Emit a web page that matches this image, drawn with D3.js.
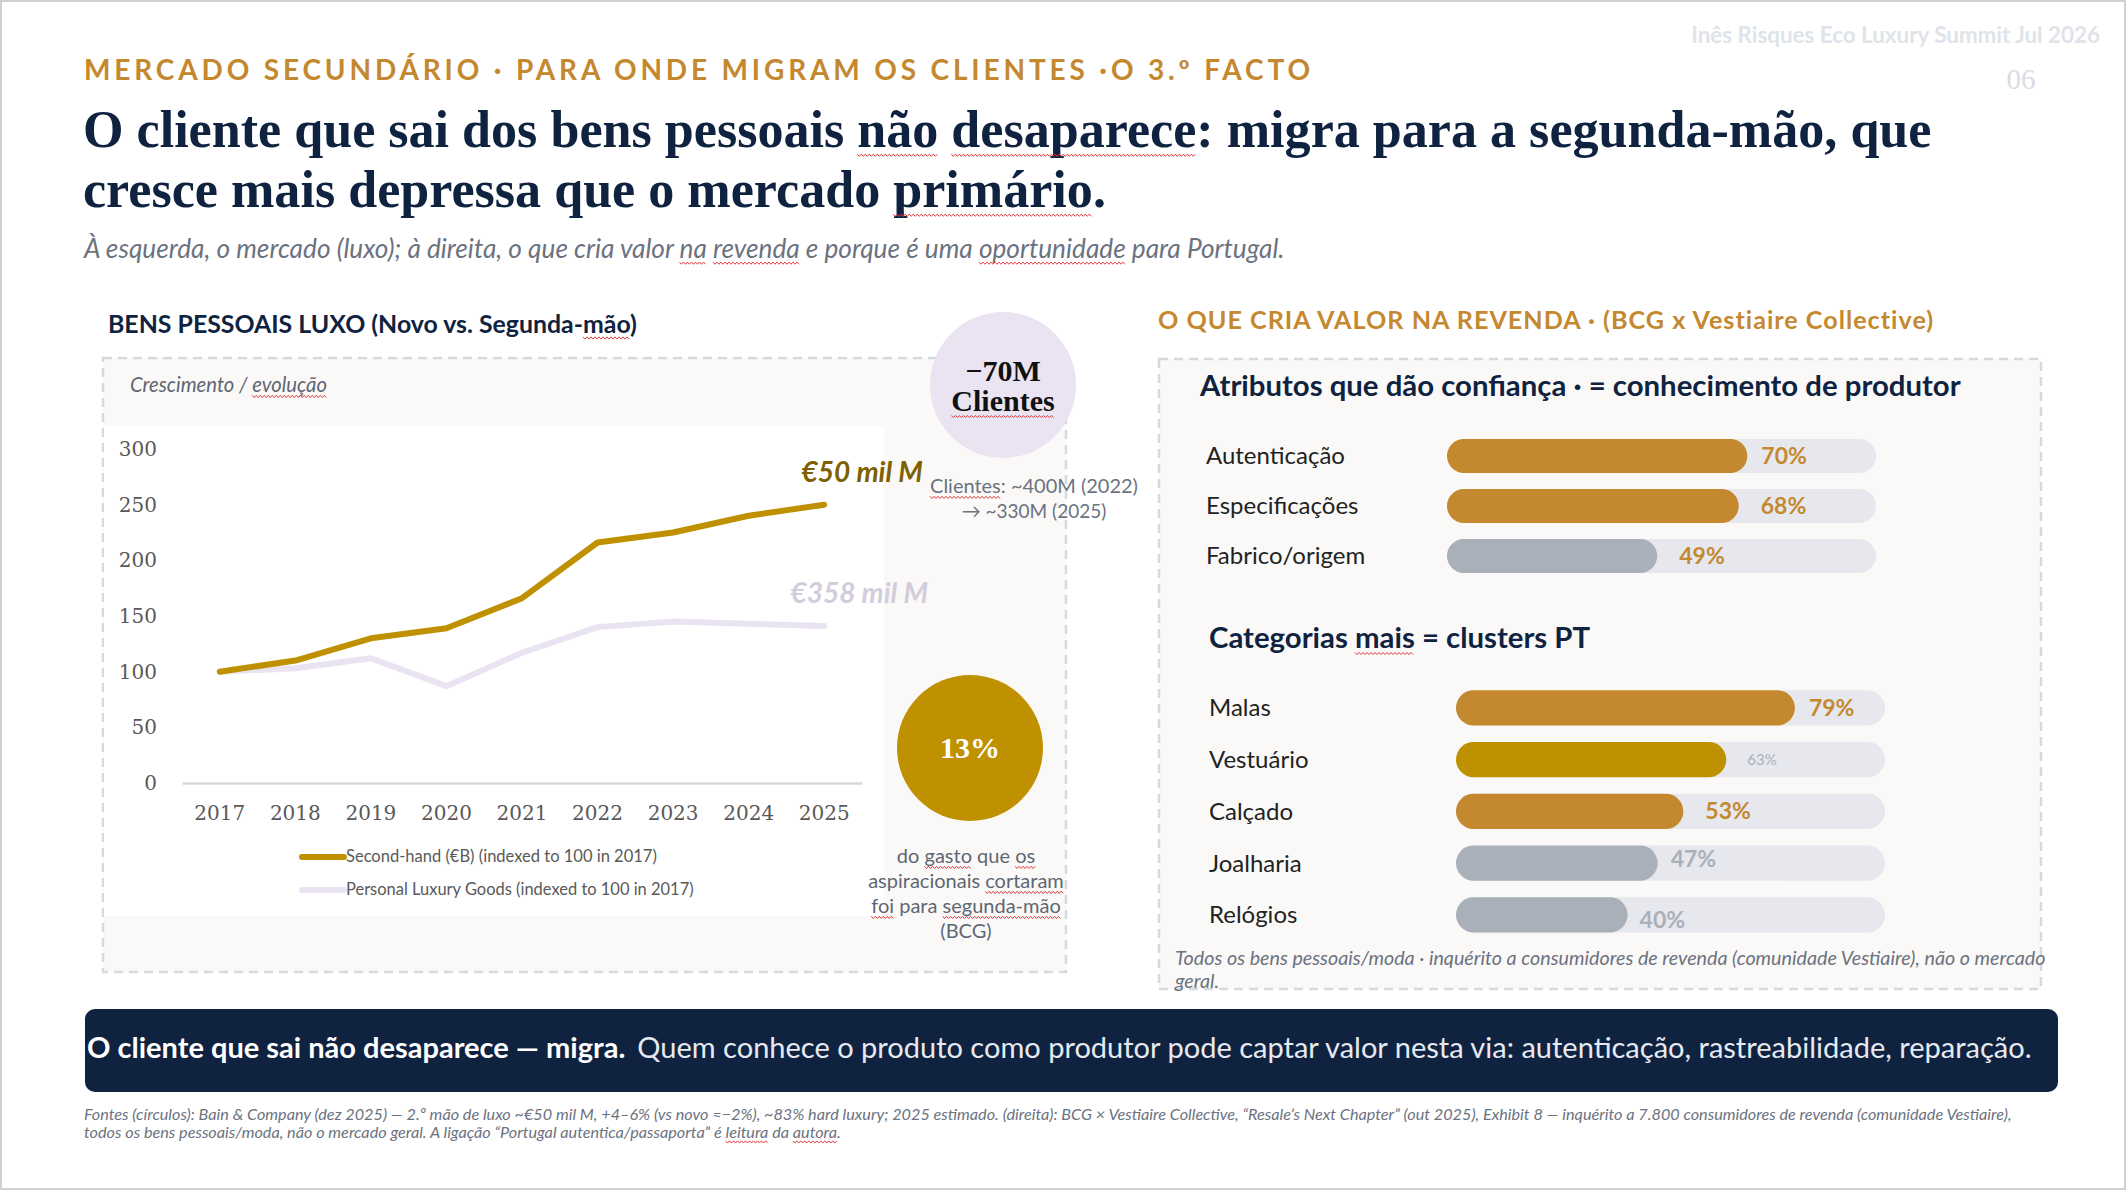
<!DOCTYPE html>
<html>
<head>
<meta charset="utf-8">
<script src="https://cdn.jsdelivr.net/npm/d3@7"></script>
<style>
  body { margin: 0; background: #fff; }
  svg { display: block; }
</style>
</head>
<body>
<svg class="slide" width="2126" height="1190"></svg>
<script>
// ---- data ----
var years = [2017, 2018, 2019, 2020, 2021, 2022, 2023, 2024, 2025]
var secondHand = [100, 110, 130, 139, 166, 216, 225, 240, 250]
var personalLuxury = [100, 103, 112, 87, 117, 140, 145, 143, 141]
var yTicks = [0, 50, 100, 150, 200, 250, 300]
var seriesNames = ["Second-hand (€B) (indexed to 100 in 2017)", "Personal Luxury Goods (indexed to 100 in 2017)"]
var seriesEndLabels = ["€50 mil M", "€358 mil M"]

var attrLabels = ["Autenticação", "Especificações", "Fabrico/origem"]
var attrValues = [70, 68, 49]
var catLabels = ["Malas", "Vestuário", "Calçado", "Joalharia", "Relógios"]
var catValues = [79, 63, 53, 47, 40]

var clientsDrop = ["−70M", "Clientes"]
var clientsNote = ["Clientes: ~400M (2022)", "→ ~330M (2025)"]
var shareSpent = "13%"
var shareNote = ["do gasto que os", "aspiracionais cortaram", "foi para segunda-mão", "(BCG)"]

// ---- look ----
var GOLD = "#C4882F", OCHRE = "#BF9000", NAVY = "#0F2341", GREY = "#6B7280"
var LAV = "#EAE3F1", BARGREY = "#AAB0BA", TRACK = "#E6E8EE"
var SANS = "Lato, 'Open Sans', sans-serif"
var SERIF = "'Liberation Serif', 'DejaVu Serif', serif"

var svg = d3.select(".slide")

function fitWidth(sel, w) {
    sel.each(function() {
        var len = this.getComputedTextLength()
        var fs = parseFloat(d3.select(this).attr("font-size"))
        d3.select(this).attr("font-size", fs * w / len)
    })
    return parseFloat(sel.attr("font-size"))
}

// red wavy spell-check line under a word, as on the slide
function squiggle(sel, words) {
    var node = sel.node()
    var txt = node.textContent
    var fs = parseFloat(sel.attr("font-size"))
    var y = parseFloat(sel.attr("y")) + fs * 0.12 + 2
    words.forEach(word => {
        var i = txt.indexOf(word)
        if (i < 0) return
        var x1 = node.getStartPositionOfChar(i).x
        var x2 = node.getEndPositionOfChar(i + word.length - 1).x
        var pts = []
        for (var x = x1, k = 0; x <= x2; x += 2, k++) pts.push([x, y + (k % 2 ? 1.1 : -1.1)])
        svg.append("path")
          .attr("d", d3.line()(pts))
          .attr("fill", "none").attr("stroke", "#E0393E").attr("stroke-width", 1)
    })
}

function drawHeader() {
    svg.append("rect")
      .attr("x", 1).attr("y", 1).attr("width", 2124).attr("height", 1188)
      .attr("fill", "#fff").attr("stroke", "#D0D0D0").attr("stroke-width", 2)

    var corner = svg.append("text")
      .attr("x", 2100).attr("y", 43).attr("text-anchor", "end")
      .attr("font-family", SANS).attr("font-weight", 700).attr("font-size", 21)
      .attr("fill", "#DFE3EA")
      .text("Inês Risques Eco Luxury Summit Jul 2026")
    fitWidth(corner, 409)

    svg.append("text")
      .attr("x", 2021).attr("y", 89).attr("text-anchor", "middle")
      .attr("font-family", SERIF).attr("font-size", 29).attr("fill", "#D8DCE3")
      .text("06")

    svg.append("text")
      .attr("x", 84).attr("y", 80)
      .attr("font-family", SANS).attr("font-weight", 700).attr("font-size", 28)
      .attr("fill", GOLD)
      .attr("textLength", 1226).attr("lengthAdjust", "spacing")
      .text("MERCADO SECUNDÁRIO · PARA ONDE MIGRAM OS CLIENTES ·O 3.º FACTO")

    var t1 = svg.append("text")
      .attr("x", 83).attr("y", 147)
      .attr("font-family", SERIF).attr("font-weight", 700).attr("font-size", 46)
      .attr("fill", NAVY)
      .text("O cliente que sai dos bens pessoais não desaparece: migra para a segunda-mão, que")
    var fs = fitWidth(t1, 1849)
    squiggle(t1, ["não", "desaparece"])
    var t2 = svg.append("text")
      .attr("x", 83).attr("y", 207)
      .attr("font-family", SERIF).attr("font-weight", 700).attr("font-size", fs)
      .attr("fill", NAVY)
      .text("cresce mais depressa que o mercado primário.")
    squiggle(t2, ["primário"])

    var sub = svg.append("text")
      .attr("x", 84).attr("y", 258)
      .attr("font-family", SANS).attr("font-style", "italic").attr("font-size", 22)
      .attr("fill", GREY)
      .text("À esquerda, o mercado (luxo); à direita, o que cria valor na revenda e porque é uma oportunidade para Portugal.")
    fitWidth(sub, 1201)
    squiggle(sub, ["na", "revenda", "oportunidade"])
}

function drawLeftPanel() {
    var title = svg.append("text")
      .attr("x", 108).attr("y", 333)
      .attr("font-family", SANS).attr("font-weight", 700).attr("font-size", 24)
      .attr("fill", NAVY)
      .text("BENS PESSOAIS LUXO (Novo vs. Segunda-mão)")
    fitWidth(title, 529)
    squiggle(title, ["mão"])

    svg.append("rect")
      .attr("x", 103).attr("y", 358).attr("width", 963).attr("height", 614)
      .attr("fill", "#FAF9F7").attr("stroke", "#D5D9E0")
      .attr("stroke-width", 2.5).attr("stroke-dasharray", "9,6")

    var cap = svg.append("text")
      .attr("x", 130).attr("y", 392)
      .attr("font-family", SANS).attr("font-style", "italic").attr("font-size", 18)
      .attr("fill", "#5F6673")
      .text("Crescimento / evolução")
    fitWidth(cap, 197)
    squiggle(cap, ["evolução"])

    svg.append("rect")
      .attr("x", 104).attr("y", 426).attr("width", 780).attr("height", 490)
      .attr("fill", "#fff")
}

function drawLineChart() {
    var g = svg.append("g").attr("class", "line-chart")

    var xScale = d3.scaleBand()
      .domain(years)
      .range([182, 862])
    var yScale = d3.scaleLinear()
      .domain([0, 300])
      .range([783, 449])
    var cx = d => xScale(d) + xScale.bandwidth() / 2

    var yAxis = g.append("g")
      .attr("transform", "translate(159, 0)")
      .call(d3.axisLeft(yScale).tickValues(yTicks).tickSize(0).tickPadding(2))
    yAxis.select(".domain").remove()
    yAxis.selectAll("text")
      .attr("font-family", "'DejaVu Serif', serif").attr("font-size", 20).attr("fill", "#595959")

    var xAxis = g.append("g")
      .attr("transform", "translate(0, 783)")
      .call(d3.axisBottom(xScale).tickSize(0).tickSizeOuter(0).tickPadding(23))
    xAxis.select(".domain").attr("stroke", "#D9D9D9").attr("stroke-width", 2.5)
    xAxis.selectAll("text")
      .attr("font-family", "'DejaVu Serif', serif").attr("font-size", 20).attr("fill", "#595959")

    var line = d3.line()
      .x((d, i) => cx(years[i]))
      .y(d => yScale(d))

    g.append("path")
      .datum(personalLuxury)
      .attr("d", line)
      .attr("fill", "none").attr("stroke", LAV).attr("stroke-width", 6)
      .attr("stroke-linejoin", "round").attr("stroke-linecap", "round")

    g.append("path")
      .datum(secondHand)
      .attr("d", line)
      .attr("fill", "none").attr("stroke", OCHRE).attr("stroke-width", 6)
      .attr("stroke-linejoin", "round").attr("stroke-linecap", "round")

    var last = years.length - 1
    g.append("text")
      .attr("x", cx(years[last]) + 38).attr("y", yScale(secondHand[last]) - 23)
      .attr("text-anchor", "middle")
      .attr("font-family", SANS).attr("font-weight", 700).attr("font-style", "italic")
      .attr("font-size", 28).attr("fill", "#7F6000")
      .text(seriesEndLabels[0])
    g.append("text")
      .attr("x", cx(years[last]) + 35).attr("y", yScale(personalLuxury[last]) - 23)
      .attr("text-anchor", "middle")
      .attr("font-family", SANS).attr("font-weight", 700).attr("font-style", "italic")
      .attr("font-size", 28).attr("fill", "#D2CCDC")
      .text(seriesEndLabels[1])

    // legend
    var legend = g.append("g").attr("transform", "translate(302, 857)")
    var colors = [OCHRE, LAV]
    var widths = [311, 348]
    seriesNames.forEach((name, i) => {
        legend.append("line")
          .attr("x1", 0).attr("x2", 42).attr("y1", i * 33).attr("y2", i * 33)
          .attr("stroke", colors[i]).attr("stroke-width", 6).attr("stroke-linecap", "round")
        var t = legend.append("text")
          .attr("x", 44).attr("y", i * 33 + 5)
          .attr("font-family", SANS).attr("font-size", 15).attr("fill", "#595959")
          .text(name)
        fitWidth(t, widths[i])
    })
}

function drawCircles() {
    svg.append("circle")
      .attr("cx", 1003).attr("cy", 385).attr("r", 73)
      .attr("fill", LAV)
    clientsDrop.forEach((t, i) => {
        var txt = svg.append("text")
          .attr("x", 1003).attr("y", 381 + i * 30)
          .attr("text-anchor", "middle")
          .attr("font-family", SERIF).attr("font-weight", 700).attr("font-size", 30)
          .attr("fill", "#111")
          .text(t)
        if (i == 1) squiggle(txt, ["Clientes"])
    })
    clientsNote.forEach((t, i) => {
        var txt = svg.append("text")
          .attr("x", 1034).attr("y", 493 + i * 25)
          .attr("text-anchor", "middle")
          .attr("font-family", SANS).attr("font-size", 19).attr("fill", GREY)
          .text(t)
        if (i == 0) {
            fitWidth(txt, 208)
            squiggle(txt, ["Clientes"])
        }
    })

    svg.append("circle")
      .attr("cx", 970).attr("cy", 748).attr("r", 73)
      .attr("fill", OCHRE)
    svg.append("text")
      .attr("x", 970).attr("y", 758)
      .attr("text-anchor", "middle")
      .attr("font-family", SERIF).attr("font-weight", 700).attr("font-size", 30)
      .attr("fill", "#fff")
      .text(shareSpent)
    var marks = [["gasto", "os"], ["cortaram"], ["foi", "segunda-mão"], []]
    shareNote.forEach((t, i) => {
        var txt = svg.append("text")
          .attr("x", 966).attr("y", 863 + i * 25)
          .attr("text-anchor", "middle")
          .attr("font-family", SANS).attr("font-size", 20).attr("fill", "#5F6673")
          .text(t)
        squiggle(txt, marks[i])
    })
}

function drawBars(labels, values, fills, valueStyle, x0, top, step, labelX) {
    var xScale = d3.scaleLinear().domain([0, 100]).range([0, 429])
    var yScale = d3.scaleBand()
      .domain(labels)
      .range([top, top + step * labels.length])
      .paddingInner(0.32).paddingOuter(0.16)
    var h = yScale.bandwidth()

    var rows = svg.append("g").selectAll("g")
      .data(labels.map((l, i) => ({label: l, value: values[i], fill: fills[i], style: valueStyle[i]})))
      .enter().append("g")
      .attr("transform", d => "translate(0," + yScale(d.label) + ")")

    rows.append("text")
      .attr("x", labelX).attr("y", h / 2).attr("dy", "0.35em")
      .attr("font-family", SANS).attr("font-size", 24).attr("fill", "#222")
      .text(d => d.label)

    rows.append("rect")
      .attr("x", x0).attr("width", xScale(100)).attr("height", h)
      .attr("rx", h / 2).attr("fill", TRACK)

    rows.append("rect")
      .attr("x", x0).attr("width", d => xScale(d.value)).attr("height", h)
      .attr("rx", h / 2).attr("fill", d => d.fill)

    rows.append("text")
      .attr("x", d => x0 + xScale(d.value) + d.style.gap)
      .attr("y", d => h / 2 + d.style.shift).attr("dy", "0.35em")
      .attr("font-family", SANS)
      .attr("font-weight", d => d.style.weight)
      .attr("font-size", d => d.style.size)
      .attr("fill", d => d.style.color)
      .text(d => d.value + "%")
}

function drawRightPanel() {
    var title = svg.append("text")
      .attr("x", 1158).attr("y", 329)
      .attr("font-family", SANS).attr("font-weight", 700).attr("font-size", 22)
      .attr("letter-spacing", 1).attr("fill", GOLD)
      .text("O QUE CRIA VALOR NA REVENDA · (BCG x Vestiaire Collective)")
    fitWidth(title, 785)

    svg.append("rect")
      .attr("x", 1159).attr("y", 359).attr("width", 882).attr("height", 630)
      .attr("fill", "#FAF9F7").attr("stroke", "#D5D9E0")
      .attr("stroke-width", 2.5).attr("stroke-dasharray", "9,6")

    var h1 = svg.append("text")
      .attr("x", 1200).attr("y", 396)
      .attr("font-family", SANS).attr("font-weight", 700).attr("font-size", 27)
      .attr("fill", NAVY)
      .text("Atributos que dão confiança  ·  = conhecimento de produtor")
    var fs = fitWidth(h1, 761)

    var gold = {weight: 700, size: 23, color: GOLD, gap: 14, shift: 0}
    var goldFar = {weight: 700, size: 23, color: GOLD, gap: 22, shift: 0}
    var small = {weight: 400, size: 15, color: BARGREY, gap: 21, shift: 0}
    var greyUp = {weight: 700, size: 23, color: BARGREY, gap: 13, shift: -4}
    var greyDown = {weight: 700, size: 23, color: BARGREY, gap: 12, shift: 5}

    drawBars(attrLabels, attrValues, [GOLD, GOLD, BARGREY], [gold, goldFar, goldFar], 1447, 431, 50, 1206)

    var h2 = svg.append("text")
      .attr("x", 1209).attr("y", 648)
      .attr("font-family", SANS).attr("font-weight", 700).attr("font-size", fs)
      .attr("fill", NAVY)
      .text("Categorias mais = clusters PT")
    squiggle(h2, ["mais"])

    drawBars(catLabels, catValues, [GOLD, OCHRE, GOLD, BARGREY, BARGREY], [gold, small, goldFar, greyUp, greyDown], 1456, 682, 51.75, 1209)

    var n1 = svg.append("text")
      .attr("x", 1175).attr("y", 965)
      .attr("font-family", SANS).attr("font-style", "italic").attr("font-size", 17)
      .attr("fill", GREY)
      .text("Todos os bens pessoais/moda · inquérito a consumidores de revenda (comunidade Vestiaire), não o mercado")
    var nfs = fitWidth(n1, 871)
    svg.append("text")
      .attr("x", 1175).attr("y", 988)
      .attr("font-family", SANS).attr("font-style", "italic").attr("font-size", nfs)
      .attr("fill", GREY)
      .text("geral.")
}

function drawFooter() {
    svg.append("rect")
      .attr("x", 85).attr("y", 1009).attr("width", 1973).attr("height", 83)
      .attr("rx", 10).attr("fill", NAVY)

    var banner = svg.append("text")
      .attr("x", 87).attr("y", 1058)
      .attr("font-family", SANS).attr("font-size", 25)
    banner.append("tspan")
      .attr("font-weight", 700).attr("fill", "#fff")
      .text("O cliente que sai não desaparece — migra.")
    banner.append("tspan")
      .attr("dx", 12).attr("fill", "#E6E9F0")
      .text("Quem conhece o produto como produtor pode captar valor nesta via: autenticação, rastreabilidade, reparação.")
    fitWidth(banner, 1934)

    var f1 = svg.append("text")
      .attr("x", 84).attr("y", 1120)
      .attr("font-family", SANS).attr("font-style", "italic").attr("font-size", 15)
      .attr("fill", GREY)
      .text("Fontes (círculos): Bain & Company (dez 2025) — 2.º mão de luxo ~€50 mil M, +4–6% (vs novo ≈−2%), ~83% hard luxury; 2025 estimado. (direita): BCG × Vestiaire Collective, “Resale’s Next Chapter” (out 2025), Exhibit 8 — inquérito a 7.800 consumidores de revenda (comunidade Vestiaire),")
    var ffs = fitWidth(f1, 1929)
    var f2 = svg.append("text")
      .attr("x", 84).attr("y", 1138)
      .attr("font-family", SANS).attr("font-style", "italic").attr("font-size", ffs)
      .attr("fill", GREY)
      .text("todos os bens pessoais/moda, não o mercado geral. A ligação “Portugal autentica/passaporta” é leitura da autora.")
    squiggle(f2, ["leitura", "autora"])
}

drawHeader()
drawLeftPanel()
drawLineChart()
drawCircles()
drawRightPanel()
drawFooter()
</script>
</body>
</html>
